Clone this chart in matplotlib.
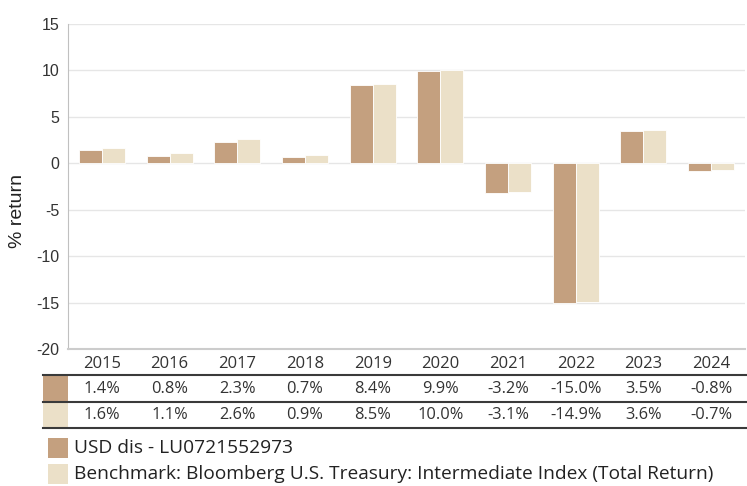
import matplotlib.pyplot as plt
from matplotlib.lines import Line2D
from matplotlib.patches import Rectangle

years = ["2015", "2016", "2017", "2018", "2019", "2020", "2021", "2022", "2023", "2024"]
fund = [1.4, 0.8, 2.3, 0.7, 8.4, 9.9, -3.2, -15.0, 3.5, -0.8]
bench = [1.6, 1.1, 2.6, 0.9, 8.5, 10.0, -3.1, -14.9, 3.6, -0.7]
fund_name = "USD dis - LU0721552973"
bench_name = "Benchmark: Bloomberg U.S. Treasury: Intermediate Index (Total Return)"

FUND_COLOR = "#c4a07f"
BENCH_COLOR = "#ebe0c8"
W, H = 747, 486

plt.rcParams["axes.unicode_minus"] = False


def fx(px):
    return px / W


def fy(py):
    return 1 - py / H


fig = plt.figure(figsize=(W / 100, H / 100), dpi=100)
ax = fig.add_axes([fx(68), fy(349), fx(745) - fx(68), fy(24) - fy(349)])

x = list(range(len(years)))
bw = 0.34
ax.bar([i - bw / 2 for i in x], fund, width=bw, color=FUND_COLOR,
       edgecolor="white", linewidth=0.6, zorder=3)
ax.bar([i + bw / 2 for i in x], bench, width=bw, color=BENCH_COLOR,
       edgecolor="white", linewidth=0.6, zorder=3)

ax.set_xlim(-0.5, len(years) - 0.5)
ax.set_ylim(-20, 15)
ax.set_yticks(range(-20, 16, 5))
ax.set_xticks(x)
ax.set_xticklabels(years)
ax.grid(axis="y", color="#e6e6e6", linewidth=1, zorder=0)
for s in ["top", "right"]:
    ax.spines[s].set_visible(False)
ax.spines["left"].set_color("#c0c0c0")
ax.spines["bottom"].set_color("#cccccc")
ax.spines["bottom"].set_linewidth(1.5)
ax.tick_params(axis="y", length=0, labelsize=11.5, labelcolor="#333333", pad=6)
ax.tick_params(axis="x", length=0, labelsize=12, labelcolor="#333333", pad=5)
for lab in ax.get_yticklabels():
    lab.set_family("Liberation Sans")
for lab in ax.get_xticklabels():
    lab.set_family("Open Sans")

fig.text(fx(17), fy(211), "% return", rotation=90, ha="center", va="center",
         fontsize=14, color="#222222", family="Liberation Sans")

# table rows under the axis
trans = ax.get_xaxis_transform()
for vals, ypx in [(fund, 389), (bench, 415)]:
    for i, v in enumerate(vals):
        ax.text(i, (fy(ypx) - fy(349)) / (fy(24) - fy(349)), f"{v:.1f}%",
                transform=trans, ha="center", va="center", fontsize=11.8,
                color="#333333", family="Open Sans", clip_on=False)

for ypx in [375, 401.5, 428]:
    fig.add_artist(Line2D([fx(43), fx(747)], [fy(ypx), fy(ypx)],
                          color="#3a3a3a", linewidth=1.5))

fig.add_artist(Rectangle((fx(43), fy(400.5)), fx(68) - fx(43), fy(376) - fy(400.5),
                         color=FUND_COLOR, linewidth=0))
fig.add_artist(Rectangle((fx(43), fy(427)), fx(68) - fx(43), fy(402.5) - fy(427),
                         color=BENCH_COLOR, linewidth=0))

# legend
for name, color, top in [(fund_name, FUND_COLOR, 438), (bench_name, BENCH_COLOR, 464)]:
    fig.add_artist(Rectangle((fx(48), fy(top + 20)), fx(68) - fx(48), fy(top) - fy(top + 20),
                             color=color, linewidth=0))
    fig.text(fx(74), fy(top + 10), name, ha="left", va="center", fontsize=13.8,
             color="#222222", family="Open Sans")

fig.savefig("out.png", dpi=100)
